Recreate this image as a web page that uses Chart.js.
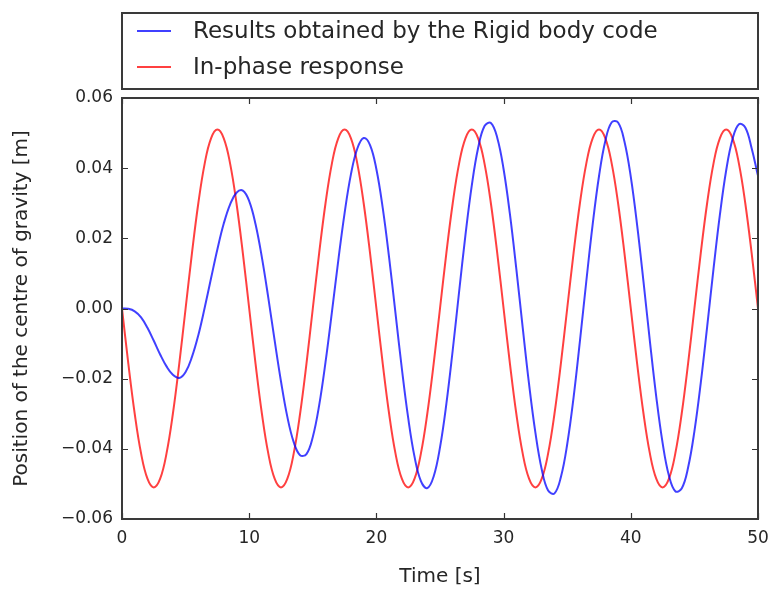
<!DOCTYPE html>
<html>
<head>
<meta charset="utf-8">
<title>Centre of gravity position</title>
<script src="https://cdn.jsdelivr.net/npm/chart.js@4/dist/chart.umd.min.js"></script>
<style>
    html, body { margin: 0; padding: 0; background: #ffffff; }
    #wrap { width: 768px; height: 590px; position: relative; }
</style>
</head>
<body>
<div id="wrap"><canvas id="cog"></canvas></div>
<script>
// time axis, sampled every 0.5 s
const timeS = [
    0, 0.5, 1, 1.5, 2, 2.5, 3, 3.5, 4, 4.5,
    5, 5.5, 6, 6.5, 7, 7.5, 8, 8.5, 9, 9.5,
    10, 10.5, 11, 11.5, 12, 12.5, 13, 13.5, 14, 14.5,
    15, 15.5, 16, 16.5, 17, 17.5, 18, 18.5, 19, 19.5,
    20, 20.5, 21, 21.5, 22, 22.5, 23, 23.5, 24, 24.5,
    25, 25.5, 26, 26.5, 27, 27.5, 28, 28.5, 29, 29.5,
    30, 30.5, 31, 31.5, 32, 32.5, 33, 33.5, 34, 34.5,
    35, 35.5, 36, 36.5, 37, 37.5, 38, 38.5, 39, 39.5,
    40, 40.5, 41, 41.5, 42, 42.5, 43, 43.5, 44, 44.5,
    45, 45.5, 46, 46.5, 47, 47.5, 48, 48.5, 49, 49.5,
    50
];

// rigid body solver output [m]
const rigidBody = [
    0.0000, -0.0001, -0.0008, -0.0025, -0.0055, -0.0092, -0.0131, -0.0165, -0.0189, -0.0198,
    -0.0181, -0.0138, -0.0076, 0.0002, 0.0086, 0.0169, 0.0242, 0.0297, 0.0330, 0.0336,
    0.0306, 0.0240, 0.0145, 0.0031, -0.0091, -0.0208, -0.0309, -0.0381, -0.0418, -0.0415,
    -0.0366, -0.0276, -0.0153, -0.0011, 0.0136, 0.0272, 0.0383, 0.0456, 0.0486, 0.0466,
    0.0397, 0.0286, 0.0145, -0.0013, -0.0171, -0.0312, -0.0423, -0.0492, -0.0512, -0.0479,
    -0.0396, -0.0272, -0.0119, 0.0047, 0.0209, 0.0351, 0.0458, 0.0520, 0.0529, 0.0487,
    0.0397, 0.0268, 0.0113, -0.0054, -0.0215, -0.0354, -0.0459, -0.0519, -0.0527, -0.0481,
    -0.0387, -0.0254, -0.0093, 0.0077, 0.0239, 0.0377, 0.0478, 0.0531, 0.0530, 0.0476,
    0.0375, 0.0237, 0.0076, -0.0093, -0.0251, -0.0383, -0.0477, -0.0521, -0.0513, -0.0454,
    -0.0350, -0.0212, -0.0053, 0.0112, 0.0266, 0.0394, 0.0483, 0.0525, 0.0516, 0.0457,
    0.0378
];

// in-phase response [m]
const inPhase = [
    0.0000, -0.0158, -0.0300, -0.0413, -0.0485, -0.0510, -0.0485, -0.0413, -0.0300, -0.0158,
    0.0000, 0.0158, 0.0300, 0.0413, 0.0485, 0.0510, 0.0485, 0.0413, 0.0300, 0.0158,
    0.0000, -0.0158, -0.0300, -0.0413, -0.0485, -0.0510, -0.0485, -0.0413, -0.0300, -0.0158,
    0.0000, 0.0158, 0.0300, 0.0413, 0.0485, 0.0510, 0.0485, 0.0413, 0.0300, 0.0158,
    0.0000, -0.0158, -0.0300, -0.0413, -0.0485, -0.0510, -0.0485, -0.0413, -0.0300, -0.0158,
    0.0000, 0.0158, 0.0300, 0.0413, 0.0485, 0.0510, 0.0485, 0.0413, 0.0300, 0.0158,
    0.0000, -0.0158, -0.0300, -0.0413, -0.0485, -0.0510, -0.0485, -0.0413, -0.0300, -0.0158,
    0.0000, 0.0158, 0.0300, 0.0413, 0.0485, 0.0510, 0.0485, 0.0413, 0.0300, 0.0158,
    0.0000, -0.0158, -0.0300, -0.0413, -0.0485, -0.0510, -0.0485, -0.0413, -0.0300, -0.0158,
    0.0000, 0.0158, 0.0300, 0.0413, 0.0485, 0.0510, 0.0485, 0.0413, 0.0300, 0.0158,
    0.0000
];

const xTicks = [0, 10, 20, 30, 40, 50];
const yTicks = [-0.06, -0.04, -0.02, 0.00, 0.02, 0.04, 0.06];

const seriesNames = ['Results obtained by the Rigid body code', 'In-phase response'];
const seriesColors = ['rgba(0, 0, 255, 0.75)', 'rgba(255, 0, 0, 0.75)'];

const FONT = '"DejaVu Sans", sans-serif';
const INK = '#262626';

const toPoints = (ys) => ys.map((y, i) => ({ x: timeS[i], y: y }));
const fmtY = (v) => {
    const s = Math.abs(v) < 1e-9 ? '0.00' : v.toFixed(2);
    return s.replace('-', '\u2212');
};

// frame, inward ticks, axis titles and the boxed legend
const decorations = {
    id: 'decorations',
    afterDraw(chart) {
        const ctx = chart.ctx;
        const a = chart.chartArea;
        const xs = chart.scales.x;
        const ys = chart.scales.y;
        const tick = 6;

        ctx.save();
        ctx.strokeStyle = '#333333';
        ctx.lineWidth = 1.2;
        ctx.beginPath();
        xTicks.forEach(v => {
            const px = Math.round(xs.getPixelForValue(v)) + 0.5;
            ctx.moveTo(px, a.bottom); ctx.lineTo(px, a.bottom - tick);
            ctx.moveTo(px, a.top); ctx.lineTo(px, a.top + tick);
        });
        yTicks.forEach(v => {
            const py = Math.round(ys.getPixelForValue(v)) + 0.5;
            ctx.moveTo(a.left, py); ctx.lineTo(a.left + tick, py);
            ctx.moveTo(a.right, py); ctx.lineTo(a.right - tick, py);
        });
        ctx.stroke();

        ctx.lineWidth = 2;
        ctx.strokeStyle = '#3a3a3a';
        ctx.strokeRect(a.left, a.top, a.right - a.left, a.bottom - a.top);

        // axis titles
        ctx.fillStyle = INK;
        ctx.font = '20px ' + FONT;
        ctx.textAlign = 'center';
        ctx.textBaseline = 'middle';
        ctx.fillText('Time [s]', (a.left + a.right) / 2, 577);
        ctx.save();
        ctx.translate(22, (a.top + a.bottom) / 2);
        ctx.rotate(-Math.PI / 2);
        ctx.fillText('Position of the centre of gravity [m]', 0, 0);
        ctx.restore();

        // legend box
        ctx.lineWidth = 2;
        ctx.strokeStyle = '#3a3a3a';
        ctx.strokeRect(a.left, 13, a.right - a.left, 76);
        const rowY = [31, 67];
        ctx.font = '23px ' + FONT;
        ctx.textAlign = 'left';
        seriesNames.forEach((name, i) => {
            ctx.strokeStyle = seriesColors[i];
            ctx.lineWidth = 2;
            ctx.beginPath();
            ctx.moveTo(137, rowY[i]);
            ctx.lineTo(171, rowY[i]);
            ctx.stroke();
            ctx.fillStyle = INK;
            ctx.fillText(name, 193, rowY[i] + 1);
        });
        ctx.restore();
    }
};

const chart = new Chart(document.getElementById('cog'), {
    type: 'line',
    data: {
        datasets: [
            {
                label: seriesNames[0],
                data: toPoints(rigidBody),
                borderColor: seriesColors[0],
                borderWidth: 2,
                pointRadius: 0,
                tension: 0.4,
                fill: false
            },
            {
                label: seriesNames[1],
                data: toPoints(inPhase),
                borderColor: seriesColors[1],
                borderWidth: 2,
                pointRadius: 0,
                tension: 0.4,
                fill: false
            }
        ]
    },
    options: {
        responsive: true,
        maintainAspectRatio: false,
        animation: false,
        layout: { padding: { top: 98, right: 10, left: 0, bottom: 0 } },
        plugins: {
            legend: { display: false },
            tooltip: { enabled: false }
        },
        scales: {
            x: {
                type: 'linear',
                min: 0,
                max: 50,
                afterBuildTicks: (scale) => { scale.ticks = xTicks.map(v => ({ value: v })); },
                afterFit: (scale) => {
                    scale.height = 71;
                    // let the end labels overhang the frame
                    scale.paddingLeft = 0;
                    scale.paddingRight = 0;
                },
                grid: { display: false, drawTicks: false },
                border: { display: false },
                ticks: {
                    color: INK,
                    padding: 9,
                    maxRotation: 0,
                    font: { family: FONT, size: 17 },
                    callback: (v) => String(v)
                }
            },
            y: {
                type: 'linear',
                min: -0.06,
                max: 0.06,
                afterBuildTicks: (scale) => { scale.ticks = yTicks.map(v => ({ value: v })); },
                afterFit: (scale) => {
                    scale.width = 122;
                    scale.paddingTop = 0;
                    scale.paddingBottom = 0;
                },
                grid: { display: false, drawTicks: false },
                border: { display: false },
                ticks: {
                    color: INK,
                    padding: 9,
                    font: { family: FONT, size: 17 },
                    callback: (v) => fmtY(v)
                }
            }
        }
    },
    plugins: [decorations]
});
</script>
</body>
</html>
